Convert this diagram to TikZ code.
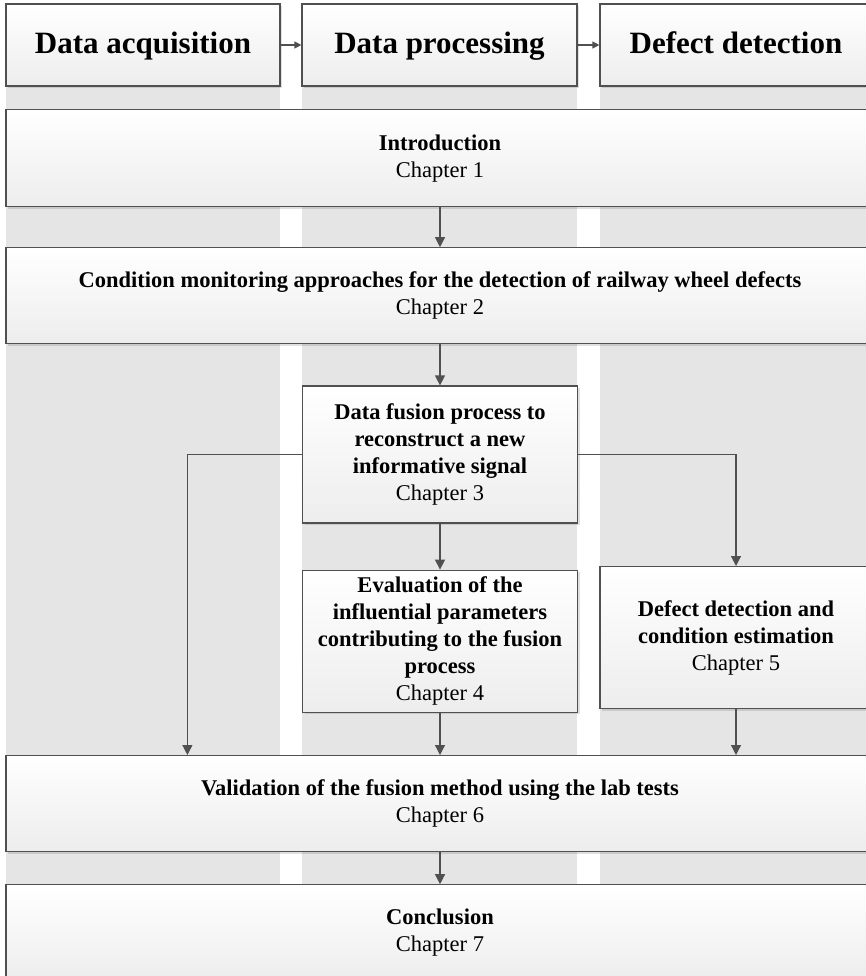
\documentclass[tikz,border=0pt]{standalone}
\usepackage{fontspec}
\setmainfont{Liberation Serif}
\usepackage{xcolor}
\usetikzlibrary{positioning,arrows.meta,shadows}

\definecolor{lanegray}{HTML}{E5E5E5}
\definecolor{linegray}{HTML}{505050}
\definecolor{boxbottom}{HTML}{EDEDED}

\tikzset{
  chapbox/.style={rectangle, draw=linegray, line width=1.2pt, top color=white, bottom color=boxbottom,
    align=center, inner sep=2pt, font=\fontsize{22.5}{27}\selectfont\bfseries,
    drop shadow={shadow xshift=2pt, shadow yshift=-2pt, fill=black, opacity=0.12}},
  headbox/.style={chapbox, minimum height=82pt, text height=21pt, text depth=3pt,
    font=\fontsize{31}{36}\selectfont\bfseries},
  flow/.style={draw=linegray, line width=1.2pt, -{Triangle[length=10pt,width=10pt]}},
  headflow/.style={draw=linegray, line width=1.2pt, -{Triangle[length=7pt,width=7pt]}}
}

\begin{document}
\begin{tikzpicture}[x=1pt, y=-1pt, node distance=40pt]
    \useasboundingbox (0,0) rectangle (865,976);
    % swim lanes
    \fill[lanegray] (6,4) rectangle (280,990);
    \fill[lanegray] (302,4) rectangle (577,990);
    \fill[lanegray] (600,4) rectangle (872,990);

    % lane headers
    \node [headbox, minimum width=274pt] (acq) at (143,45) {Data acquisition};
    \node [headbox, minimum width=275pt] (proc) at (439.5,45) {Data processing};
    \node [headbox, minimum width=272pt] (det) at (736,45) {Defect detection};
    \draw [headflow] (acq) -- (proc);
    \draw [headflow] (proc) -- (det);

    % chapters
    \node [chapbox, minimum width=868pt, minimum height=97pt, anchor=north] (intro) at (440,109)
        {Introduction\\\mdseries Chapter 1};
    \node [chapbox, minimum width=868pt, minimum height=96pt, below=40pt of intro] (cond)
        {Condition monitoring approaches for the detection of railway wheel defects\\\mdseries Chapter 2};
    \node [chapbox, minimum width=275pt, minimum height=137pt, below=41pt of cond] (fusion)
        {Data fusion process to\\reconstruct a new\\informative signal\\\mdseries Chapter 3};
    \node [chapbox, minimum width=275pt, minimum height=142pt, below=46pt of fusion] (param)
        {Evaluation of the\\influential parameters\\contributing to the fusion\\process\\\mdseries Chapter 4};
    \node [chapbox, minimum width=272pt, minimum height=142pt, anchor=north] (estim) at (736,566)
        {Defect detection and\\condition estimation\\\mdseries Chapter 5};
    \node [chapbox, minimum width=868pt, minimum height=96pt, anchor=north] (valid) at (440,755)
        {Validation of the fusion method using the lab tests\\\mdseries Chapter 6};
    \node [chapbox, minimum width=868pt, minimum height=95pt, below=32pt of valid] (concl)
        {Conclusion\\\mdseries Chapter 7};

    % connectors
    \draw [flow] (intro) -- (cond);
    \draw [flow] (cond) -- (fusion);
    \draw [flow] (fusion) -- (param);
    \draw [flow] (fusion.west) -| ([xshift=182pt]valid.north west);
    \draw [flow] (fusion.east) -| (estim.north);
    \draw [flow] (param.south) -- (param.south |- valid.north);
    \draw [flow] (estim.south) -- (estim.south |- valid.north);
    \draw [flow] (valid) -- (concl);
\end{tikzpicture}
\end{document}
